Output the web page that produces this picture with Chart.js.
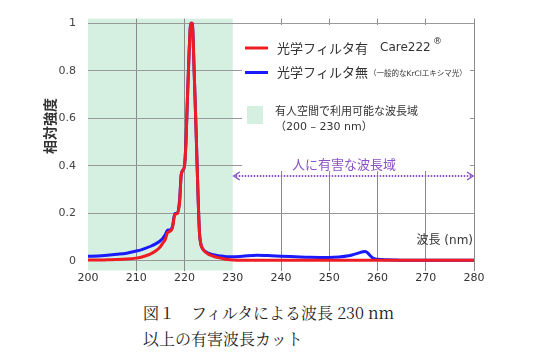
<!DOCTYPE html>
<html lang="ja">
<head>
<meta charset="UTF-8">
<title>フィルタによる波長カット</title>
<style>
    body {
        margin: 0;
        background: #fff;
        width: 535px;
        height: 352px;
        position: relative;
        overflow: hidden;
    }
    #chart {
        position: absolute;
        left: 0;
        top: 0;
    }
    .caption {
        position: absolute;
        left: 143px;
        top: 300px;
        font-family: "Noto Serif CJK JP", "Liberation Serif", "Noto Sans CJK JP", serif;
        font-size: 16px;
        line-height: 26px;
        color: #222;
        white-space: nowrap;
    }
</style>
<script src="https://cdn.jsdelivr.net/npm/chart.js"></script>
</head>
<body>
<canvas id="chart" width="535" height="290"></canvas>
<div class="caption">図１　フィルタによる波長 230 nm<br>以上の有害波長カット</div>
<script>
    // wavelength (nm)
    const wavelengths = [200, 202, 204, 206, 208, 210, 211, 212, 213, 214, 215, 215.5, 216, 216.5, 217, 217.5,
        218, 218.5, 219, 219.3, 219.6, 220, 220.3, 220.6, 221, 221.3, 221.6, 222, 222.4, 222.8, 223.1, 223.4,
        223.8, 224.3, 225, 226, 227, 228, 229, 230, 232, 235, 238, 240, 243, 246, 250, 252, 254, 255, 256,
        257, 257.5, 258, 258.5, 259, 259.5, 260, 261, 262, 264, 266, 268, 270, 275, 280];

    // relative intensity, with filter (Care222)
    const withFilter = [0.004, 0.004, 0.005, 0.006, 0.008, 0.012, 0.016, 0.022, 0.03, 0.042, 0.06, 0.075, 0.09,
        0.12, 0.125, 0.14, 0.195, 0.2, 0.25, 0.36, 0.38, 0.4, 0.5, 0.68, 0.9, 1, 1, 0.8, 0.55, 0.28, 0.12, 0.07,
        0.05, 0.038, 0.028, 0.02, 0.014, 0.01, 0.006, 0.004, 0.003, 0.003, 0.003, 0.003, 0.003, 0.003, 0.003,
        0.003, 0.003, 0.003, 0.003, 0.003, 0.003, 0.003, 0.003, 0.003, 0.003, 0.003, 0.003, 0.003, 0.003,
        0.003, 0.003, 0.003, 0.003, 0.003];

    // relative intensity, without filter (KrCl excimer)
    const noFilter = [0.02, 0.021, 0.024, 0.028, 0.033, 0.042, 0.047, 0.054, 0.062, 0.072, 0.085, 0.095, 0.11,
        0.13, 0.13, 0.145, 0.2, 0.2, 0.26, 0.36, 0.38, 0.4, 0.5, 0.68, 0.9, 1, 1, 0.8, 0.55, 0.28, 0.12, 0.07,
        0.05, 0.04, 0.032, 0.026, 0.022, 0.02, 0.018, 0.018, 0.02, 0.024, 0.022, 0.02, 0.018, 0.016, 0.015,
        0.017, 0.022, 0.027, 0.033, 0.039, 0.04, 0.033, 0.022, 0.013, 0.009, 0.007, 0.006, 0.005, 0.004,
        0.003, 0.003, 0.003, 0.003, 0.003];

    const xTicks = [200, 210, 220, 230, 240, 250, 260, 270, 280];
    const yTicks = [0, 0.2, 0.4, 0.6, 0.8, 1];
    const safeBand = [200, 230];
    const harmfulBand = [230, 280];

    const RED = '#ee1d23';
    const BLUE = '#1a1aff';
    const GREEN = '#d5f0e1';
    const PURPLE = '#8a52c6';
    const SANS = '"DejaVu Sans", "Noto Sans CJK JP", sans-serif';
    const CJK = '"Noto Sans CJK JP", sans-serif';

    // green band behind the grid
    const bandPlugin = {
        id: 'band',
        beforeDraw(chart) {
            const {ctx, chartArea, scales} = chart;
            const x0 = scales.x.getPixelForValue(safeBand[0]);
            const x1 = scales.x.getPixelForValue(safeBand[1]);
            ctx.save();
            ctx.fillStyle = GREEN;
            ctx.fillRect(x0, chartArea.top, x1 - x0, chartArea.bottom - chartArea.top);
            ctx.restore();
        },
        beforeDatasetsDraw(chart) {
            // white box behind the legend hides the grid there
            const ctx = chart.ctx;
            ctx.save();
            ctx.fillStyle = '#fff';
            ctx.fillRect(242, 25, 228, 146);
            ctx.restore();
        },
        afterDraw(chart) {
            const {ctx, scales} = chart;
            ctx.save();
            ctx.textBaseline = 'middle';
            ctx.textAlign = 'left';

            // legend: red
            ctx.lineWidth = 3;
            ctx.strokeStyle = RED;
            ctx.beginPath(); ctx.moveTo(245, 48); ctx.lineTo(268, 48); ctx.stroke();
            ctx.fillStyle = '#333';
            ctx.font = '13px ' + CJK;
            ctx.fillText('光学フィルタ有', 277, 48);
            ctx.font = '12px ' + SANS;
            ctx.fillText('Care222', 380, 48);
            ctx.font = '9px ' + SANS;
            ctx.fillText('®', 433, 42);

            // legend: blue
            ctx.strokeStyle = BLUE;
            ctx.beginPath(); ctx.moveTo(245, 72.5); ctx.lineTo(268, 72.5); ctx.stroke();
            ctx.font = '13px ' + CJK;
            ctx.fillText('光学フィルタ無', 277, 72.5);
            ctx.font = '7.5px ' + SANS;
            ctx.fillText('（一般的なKrClエキシマ光）', 369, 74);

            // legend: green band
            ctx.fillStyle = GREEN;
            ctx.fillRect(247, 106, 16, 18);
            ctx.fillStyle = '#333';
            ctx.font = '11px ' + SANS;
            ctx.fillText('有人空間で利用可能な波長域', 275, 112);
            ctx.fillText('（200 – 230 nm）', 275, 127);

            // harmful range
            const ax0 = scales.x.getPixelForValue(harmfulBand[0]) + 1;
            const ax1 = scales.x.getPixelForValue(harmfulBand[1]) - 1;
            const ay = 176;
            ctx.fillStyle = PURPLE;
            ctx.font = '13px ' + CJK;
            ctx.fillText('人に有害な波長域', 292, 164);
            ctx.strokeStyle = PURPLE;
            ctx.lineWidth = 2;
            ctx.setLineDash([1.5, 1.5]);
            ctx.beginPath(); ctx.moveTo(ax0 + 2, ay); ctx.lineTo(ax1 - 2, ay); ctx.stroke();
            ctx.setLineDash([]);
            ctx.lineWidth = 1.5;
            ctx.beginPath();
            ctx.moveTo(ax0 + 6, ay - 4); ctx.lineTo(ax0, ay); ctx.lineTo(ax0 + 6, ay + 4);
            ctx.moveTo(ax1 - 6, ay - 4); ctx.lineTo(ax1, ay); ctx.lineTo(ax1 - 6, ay + 4);
            ctx.stroke();

            // x axis label
            ctx.fillStyle = '#333';
            ctx.textAlign = 'right';
            ctx.font = '12px ' + SANS;
            ctx.fillText('波長 (nm)', 473, 241);

            // y axis title
            ctx.translate(50, 126);
            ctx.rotate(-Math.PI / 2);
            ctx.textAlign = 'center';
            ctx.font = 'bold 14px ' + CJK;
            ctx.fillText('相対強度', 0, 0);
            ctx.restore();
        }
    };

    new Chart(document.getElementById('chart'), {
        type: 'line',
        data: {
            datasets: [{
                label: '光学フィルタ有 Care222',
                data: wavelengths.map((w, i) => ({x: w, y: withFilter[i]})),
                borderColor: RED,
                borderWidth: 3,
                pointRadius: 0,
                cubicInterpolationMode: 'monotone'
            }, {
                label: '光学フィルタ無',
                data: wavelengths.map((w, i) => ({x: w, y: noFilter[i]})),
                borderColor: BLUE,
                borderWidth: 3,
                pointRadius: 0,
                cubicInterpolationMode: 'monotone'
            }]
        },
        options: {
            responsive: false,
            animation: false,
            layout: {padding: {left: 0, top: 18, right: 61, bottom: 0}},
            plugins: {legend: {display: false}, tooltip: {enabled: false}},
            scales: {
                x: {
                    type: 'linear',
                    min: 200,
                    max: 280,
                    afterBuildTicks: s => { s.ticks = xTicks.map(v => ({value: v})); },
                    afterFit: s => { s.height = 19.5; },
                    border: {display: false},
                    grid: {
                        drawTicks: false,
                        color: c => (c.tick && (c.tick.value === 200 || c.tick.value === 230)) ? 'rgba(0,0,0,0)' : '#8a8a8a'
                    },
                    ticks: {
                        padding: 1,
                        color: '#333',
                        font: {family: SANS, size: 11},
                        maxRotation: 0,
                        callback: v => String(v)
                    }
                },
                y: {
                    min: -0.04,
                    max: 1.0197,
                    afterBuildTicks: s => { s.ticks = yTicks.map(v => ({value: v})); },
                    afterFit: s => { s.width = 88; },
                    border: {display: false},
                    grid: {drawTicks: false, color: '#999'},
                    ticks: {
                        padding: 12,
                        color: '#444',
                        font: {family: SANS, size: 11},
                        callback: v => String(Math.round(v * 10) / 10)
                    }
                }
            }
        },
        plugins: [bandPlugin]
    });
</script>
</body>
</html>
